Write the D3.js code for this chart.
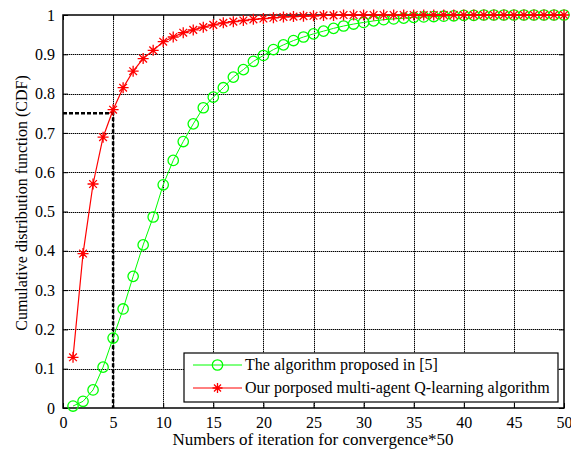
<!DOCTYPE html>
<html>
<head>
<meta charset="utf-8">
<script src="https://cdn.jsdelivr.net/npm/d3@7"></script>
<style>
  body { margin: 0; background: #fff; }
  svg text { font-family: "Times New Roman", "Liberation Serif", "DejaVu Serif", serif !important; fill: #000; }
</style>
</head>
<body>
<div id="chart"></div>
<script>
// iteration index (x 1..50)
var iterations = d3.range(1, 51);

// The algorithm proposed in [5]
var cdfRef = [0.005, 0.017, 0.046, 0.104, 0.178, 0.252, 0.335, 0.415, 0.486, 0.568,
              0.630, 0.678, 0.723, 0.764, 0.791, 0.815, 0.842, 0.861, 0.882, 0.897,
              0.912, 0.924, 0.935, 0.944, 0.952, 0.959, 0.966, 0.972, 0.977, 0.981,
              0.985, 0.988, 0.990, 0.992, 0.994, 0.995, 0.996, 0.997, 0.998, 0.999,
              0.999, 1, 1, 1, 1, 1, 1, 1, 1, 1];

// Our porposed multi-agent Q-learning algorithm
var cdfOurs = [0.129, 0.393, 0.570, 0.689, 0.759, 0.815, 0.857, 0.889, 0.910, 0.932,
               0.944, 0.955, 0.962, 0.969, 0.975, 0.980, 0.983, 0.986, 0.989, 0.991,
               0.993, 0.995, 0.996, 0.997, 0.998, 0.999, 0.999, 1, 1, 1,
               1, 1, 1, 1, 1, 1, 1, 1, 1, 1,
               1, 1, 1, 1, 1, 1, 1, 1, 1, 1];

var xTicks = [0, 5, 10, 15, 20, 25, 30, 35, 40, 45, 50];
var yTicks = [0, 0.1, 0.2, 0.3, 0.4, 0.5, 0.6, 0.7, 0.8, 0.9, 1];
var marker = { x: 5, y: 0.75 };

var width = 571, height = 454;
var margin = { left: 63, right: 7, top: 15, bottom: 46 };

var svg = d3.select("#chart").append("svg").attr("width", width).attr("height", height);

var x = d3.scaleLinear().domain([0, 50]).range([margin.left, width - margin.right]);
var y = d3.scaleLinear().domain([0, 1]).range([height - margin.bottom, margin.top]);
function px(v) { return Math.round(x(v)) + 0.5; }
function py(v) { return Math.round(y(v)) + 0.5; }

var g = svg.append("g");

// dotted grid (gray underlay + black dots, like the MATLAB export)
[["#9a9a9a", null], ["#000", "1,1"]].forEach(function(st) {
  g.append("g").selectAll("line").data(xTicks.slice(1, -1)).enter().append("line")
    .attr("x1", function(d) { return px(d); }).attr("x2", function(d) { return px(d); })
    .attr("y1", y(0)).attr("y2", y(1))
    .style("stroke", st[0]).style("stroke-width", 1).style("stroke-dasharray", st[1]);
  g.append("g").selectAll("line").data(yTicks.slice(1, -1)).enter().append("line")
    .attr("y1", function(d) { return py(d); }).attr("y2", function(d) { return py(d); })
    .attr("x1", x(0)).attr("x2", x(50))
    .style("stroke", st[0]).style("stroke-width", 1).style("stroke-dasharray", st[1]);
});

// axes, ticks inward
var xAxis = svg.append("g").attr("transform", "translate(0," + y(0) + ")")
  .call(d3.axisBottom(x).tickValues(xTicks).tickSize(-5).tickPadding(9).tickFormat(d3.format("d")));
var yAxis = svg.append("g").attr("transform", "translate(" + x(0) + ",0)")
  .call(d3.axisLeft(y).tickValues(yTicks).tickSize(-5).tickPadding(8).tickFormat(function(d) { return d === 0 || d === 1 ? d : d3.format(".1f")(d); }));
svg.append("g").attr("transform", "translate(0," + y(1) + ")")
  .call(d3.axisTop(x).tickValues(xTicks).tickSize(-5).tickFormat(""));
svg.append("g").attr("transform", "translate(" + x(50) + ",0)")
  .call(d3.axisRight(y).tickValues(yTicks).tickSize(-5).tickFormat(""));
svg.selectAll(".domain").remove();
svg.selectAll("g[font-family]").attr("font-family", null);
svg.selectAll(".tick line").style("stroke", "#000");
svg.selectAll(".tick text").style("font-size", "16px").style("fill", "#000");

svg.append("rect").attr("x", x(0)).attr("y", y(1)).attr("width", x(50) - x(0)).attr("height", y(0) - y(1))
  .style("fill", "none").style("stroke", "#000").style("stroke-width", 1.5);

// dashed guide at 0.75
svg.append("path")
  .attr("d", "M" + x(0) + "," + y(marker.y) + "H" + x(marker.x) + "V" + y(0))
  .style("fill", "none").style("stroke", "#000").style("stroke-width", 2.5).style("stroke-dasharray", "4,2");

var line = d3.line().x(function(d) { return x(d[0]); }).y(function(d) { return y(d[1]); });
var refPts = iterations.map(function(d, i) { return [d, cdfRef[i]]; });
var oursPts = iterations.map(function(d, i) { return [d, cdfOurs[i]]; });

function starPath(s) {
  var a = s * 0.7;
  return "M" + (-s) + ",0H" + s + "M0," + (-s) + "V" + s +
         "M" + (-a) + "," + (-a) + "L" + a + "," + a + "M" + (-a) + "," + a + "L" + a + "," + (-a);
}

svg.append("path").datum(refPts).attr("d", line)
  .style("fill", "none").style("stroke", "#00ff00").style("stroke-width", 1);
svg.selectAll("circle.ref").data(refPts).enter().append("circle").attr("class", "ref")
  .attr("cx", function(d) { return x(d[0]); }).attr("cy", function(d) { return y(d[1]); })
  .attr("r", 5.2).style("fill", "none").style("stroke", "#00ff00").style("stroke-width", 1.3);

svg.append("path").datum(oursPts).attr("d", line)
  .style("fill", "none").style("stroke", "#ff0000").style("stroke-width", 1.2);
svg.selectAll("path.ours").data(oursPts).enter().append("path").attr("class", "ours")
  .attr("transform", function(d) { return "translate(" + x(d[0]) + "," + y(d[1]) + ")"; })
  .attr("d", starPath(5.5)).style("fill", "none").style("stroke", "#ff0000").style("stroke-width", 1.3);

// legend
var leg = svg.append("g").attr("transform", "translate(184,353)");
leg.append("rect").attr("width", 374).attr("height", 49)
  .style("fill", "#fff").style("stroke", "#000").style("stroke-width", 1.2);
var legItems = [
  { name: "The algorithm proposed in [5]", color: "#00ff00", kind: "circle" },
  { name: "Our porposed multi-agent Q-learning algorithm", color: "#ff0000", kind: "star" }
];
var li = leg.selectAll("g.item").data(legItems).enter().append("g").attr("class", "item")
  .attr("transform", function(d, i) { return "translate(0," + (12 + i * 23) + ")"; });
li.append("line").attr("x1", 9).attr("x2", 58)
  .style("stroke", function(d) { return d.color; }).style("stroke-width", 1);
li.each(function(d) {
  var s = d3.select(this);
  if (d.kind === "circle") {
    s.append("circle").attr("cx", 33.5).attr("r", 5.2).style("fill", "none").style("stroke", d.color).style("stroke-width", 1.3);
  } else {
    s.append("path").attr("transform", "translate(33.5,0)").attr("d", starPath(5))
      .style("fill", "none").style("stroke", d.color).style("stroke-width", 1.3);
  }
});
li.append("text").attr("x", 61).attr("y", 5).style("font-size", "16px").text(function(d) { return d.name; });

// axis titles
svg.append("text").attr("x", 313).attr("y", 445).attr("text-anchor", "middle")
  .style("font-size", "17px").text("Numbers of iteration for convergence*50");
svg.append("text").attr("transform", "translate(27,203) rotate(-90)")
  .attr("text-anchor", "middle").style("font-size", "16px").text("Cumulative distribution function (CDF)");
</script>
</body>
</html>
